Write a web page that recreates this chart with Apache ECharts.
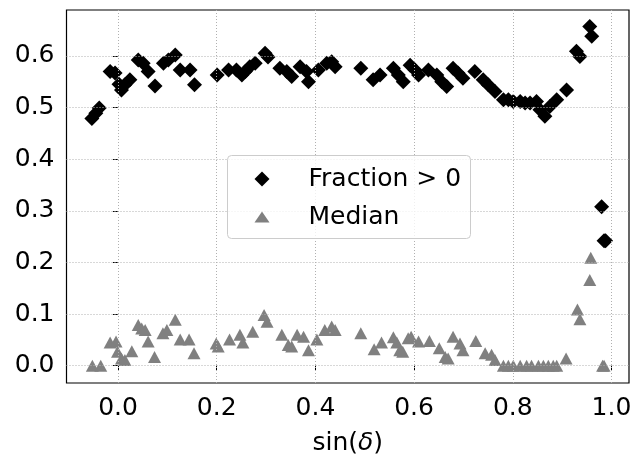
<!DOCTYPE html>
<html>
<head>
<meta charset="utf-8">
<script src="https://cdn.jsdelivr.net/npm/echarts@6/dist/echarts.min.js"></script>
<style>
  html, body { margin: 0; padding: 0; background: #fff; }
  #chart { width: 632px; height: 455px; }
</style>
</head>
<body>
<div id="chart"></div>
<script>
// sin(declination) bins and the statistics measured in each one
const fracX = [-0.053, -0.045, -0.038, -0.016, -0.006, 0.002, 0.007, 0.014, 0.024, 0.041,
  0.051, 0.061, 0.075, 0.092, 0.102, 0.116, 0.126, 0.146, 0.155, 0.201,
  0.224, 0.240, 0.251, 0.258, 0.267, 0.278, 0.298, 0.304, 0.328, 0.342,
  0.352, 0.369, 0.382, 0.386, 0.406, 0.423, 0.433, 0.440, 0.492, 0.517,
  0.531, 0.558, 0.568, 0.578, 0.592, 0.602, 0.609, 0.629, 0.646, 0.656,
  0.666, 0.679, 0.689, 0.699, 0.723, 0.740, 0.750, 0.764, 0.781, 0.791,
  0.801, 0.815, 0.825, 0.835, 0.848, 0.855, 0.865, 0.875, 0.889, 0.909,
  0.929, 0.936, 0.956, 0.960, 0.980, 0.985, 0.988];
const fracY = [0.479, 0.489, 0.499, 0.570, 0.567, 0.545, 0.534, 0.544, 0.554, 0.592,
  0.586, 0.570, 0.542, 0.586, 0.592, 0.602, 0.573, 0.573, 0.544, 0.563,
  0.573, 0.573, 0.563, 0.570, 0.579, 0.586, 0.605, 0.598, 0.576, 0.570,
  0.560, 0.579, 0.570, 0.550, 0.573, 0.586, 0.589, 0.579, 0.576, 0.554,
  0.563, 0.576, 0.563, 0.550, 0.582, 0.573, 0.563, 0.573, 0.563, 0.550,
  0.541, 0.576, 0.567, 0.557, 0.570, 0.554, 0.544, 0.531, 0.515, 0.515,
  0.512, 0.512, 0.509, 0.509, 0.512, 0.496, 0.483, 0.502, 0.515, 0.534,
  0.609, 0.599, 0.657, 0.638, 0.308, 0.242, 0.242];

const medX = [-0.052, -0.035, -0.016, -0.004, -0.001, 0.007, 0.014, 0.028, 0.041, 0.048,
  0.055, 0.061, 0.074, 0.091, 0.099, 0.116, 0.126, 0.144, 0.154, 0.199,
  0.203, 0.226, 0.247, 0.253, 0.273, 0.296, 0.302, 0.332, 0.345, 0.352,
  0.363, 0.376, 0.386, 0.403, 0.419, 0.433, 0.440, 0.492, 0.519, 0.534,
  0.558, 0.565, 0.571, 0.577, 0.588, 0.594, 0.609, 0.631, 0.651, 0.663,
  0.669, 0.679, 0.693, 0.699, 0.725, 0.744, 0.757, 0.764, 0.781, 0.791,
  0.801, 0.815, 0.828, 0.838, 0.852, 0.862, 0.872, 0.882, 0.889, 0.908,
  0.931, 0.936, 0.956, 0.958, 0.982, 0.985];
const medY = [0.0, 0.0, 0.045, 0.047, 0.027, 0.014, 0.011, 0.028, 0.079, 0.072,
  0.069, 0.047, 0.017, 0.063, 0.069, 0.089, 0.051, 0.051, 0.024, 0.043,
  0.037, 0.051, 0.060, 0.045, 0.066, 0.098, 0.085, 0.060, 0.040, 0.037,
  0.060, 0.056, 0.030, 0.051, 0.069, 0.076, 0.069, 0.063, 0.032, 0.045,
  0.055, 0.045, 0.030, 0.027, 0.053, 0.056, 0.047, 0.048, 0.034, 0.017,
  0.014, 0.056, 0.043, 0.030, 0.048, 0.024, 0.021, 0.011, 0.0, 0.0,
  0.0, 0.0, 0.0, 0.0, 0.0, 0.0, 0.0, 0.0, 0.0, 0.014,
  0.109, 0.090, 0.166, 0.209, 0.0, 0.0];

const xTicks = [0.0, 0.2, 0.4, 0.6, 0.8, 1.0];
const yTicks = [0.0, 0.1, 0.2, 0.3, 0.4, 0.5, 0.6];

const FONT = 'DejaVu Sans';
const gridStyle = { color: '#b0b0b0', width: 1, type: [1, 2] };

const pairs = (xs, ys) => xs.map((x, i) => [x, ys[i]]);

const legendText = { fontFamily: FONT, fontSize: 25, color: '#000', lineHeight: 26, padding: [0, 0, 0, 34] };

const chart = echarts.init(document.getElementById('chart'), null, { renderer: 'canvas' });

chart.setOption({
  animation: false,
  backgroundColor: '#ffffff',
  grid: {
    left: 66.5, right: 3, top: 10, bottom: 72,
    containLabel: false, outerBoundsMode: 'none',
    show: true, borderColor: '#000', borderWidth: 1.2, backgroundColor: 'transparent'
  },
  xAxis: {
    type: 'value',
    min: -0.1044, max: 1.0355,
    name: 'sin({i|δ})',
    nameLocation: 'middle',
    nameGap: 48,
    nameTextStyle: {
      fontFamily: FONT, fontSize: 25, color: '#000',
      rich: { i: { fontFamily: FONT, fontSize: 25, fontStyle: 'italic', color: '#000' } }
    },
    axisLine: { show: false },
    axisTick: { show: true, customValues: xTicks, length: 5, lineStyle: { color: '#000', width: 1 } },
    axisLabel: {
      customValues: xTicks, margin: 13, color: '#000', fontFamily: FONT, fontSize: 25,
      formatter: v => v.toFixed(1)
    },
    splitLine: { show: false }
  },
  yAxis: {
    type: 'value',
    min: -0.0335, max: 0.689,
    axisLine: { show: false },
    axisTick: { show: true, customValues: yTicks, length: 5, lineStyle: { color: '#000', width: 1 } },
    axisLabel: {
      customValues: yTicks, margin: 12, color: '#000', fontFamily: FONT, fontSize: 25,
      formatter: v => v.toFixed(1)
    },
    splitLine: { show: false }
  },
  legend: [
    {
      data: [{ name: 'Fraction > 0', icon: 'diamond' }],
      left: 254.5, top: 166, padding: 0,
      itemWidth: 15, itemHeight: 15,
      textStyle: legendText,
      selectedMode: false, z: 10
    },
    {
      data: [{ name: 'Median', icon: 'triangle' }],
      left: 254.5, top: 204, padding: 0,
      itemWidth: 15, itemHeight: 11,
      textStyle: legendText,
      selectedMode: false, z: 10
    }
  ],
  graphic: [
    {
      type: 'rect', z: 6,
      shape: { x: 227.5, y: 155.5, width: 243, height: 83, r: 4 },
      style: { fill: 'rgba(255,255,255,0.8)', stroke: '#cccccc', lineWidth: 1 }
    }
  ],
  series: [
    {
      // dotted grid at the tick values
      type: 'line', data: [], silent: true, z: 1,
      markLine: {
        silent: true, symbol: 'none', animation: false,
        label: { show: false },
        lineStyle: gridStyle,
        data: xTicks.map(v => ({ xAxis: v })).concat(yTicks.map(v => ({ yAxis: v })))
      }
    },
    {
      name: 'Fraction > 0',
      type: 'scatter',
      symbol: 'diamond',
      symbolSize: 15,
      itemStyle: { color: '#000000', opacity: 1 },
      data: pairs(fracX, fracY),
      z: 3
    },
    {
      name: 'Median',
      type: 'scatter',
      symbol: 'triangle',
      symbolSize: [13, 12],
      itemStyle: { color: '#808080', opacity: 1 },
      data: pairs(medX, medY),
      z: 4
    }
  ]
});
</script>
</body>
</html>
